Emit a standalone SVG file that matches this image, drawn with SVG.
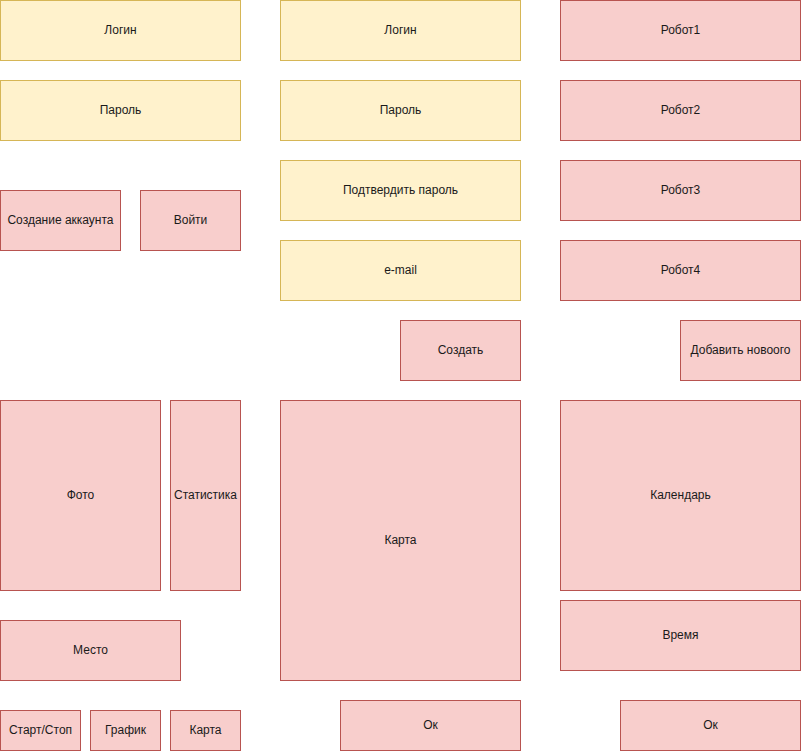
<svg xmlns="http://www.w3.org/2000/svg" width="801" height="751" viewBox="0 0 801 751">
<style>
.y{fill:#fff2cc;stroke:#d6b656;stroke-width:1}
.r{fill:#f8cecc;stroke:#b85450;stroke-width:1}
text{font-family:"Liberation Sans",Arial,sans-serif;font-size:12px;fill:#1a1a1a;text-anchor:middle;dominant-baseline:central}
</style>
<rect width="801" height="751" fill="#ffffff"/>
<g id="login1"><rect class="y" x="0.5" y="0.5" width="240" height="60"/><text x="120.5" y="29.5">Логин</text></g>
<g id="pass1"><rect class="y" x="0.5" y="80.5" width="240" height="60"/><text x="120.5" y="109.5">Пароль</text></g>
<g id="create-acc"><rect class="r" x="0.5" y="190.5" width="120" height="60"/><text x="60.5" y="219.5">Создание аккаунта</text></g>
<g id="enter"><rect class="r" x="140.5" y="190.5" width="100" height="60"/><text x="190.5" y="219.5">Войти</text></g>
<g id="photo"><rect class="r" x="0.5" y="400.5" width="160" height="190"/><text x="80.5" y="494.5">Фото</text></g>
<g id="stats"><rect class="r" x="170.5" y="400.5" width="70" height="190"/><text x="205.5" y="494.5">Статистика</text></g>
<g id="place"><rect class="r" x="0.5" y="620.5" width="180" height="60"/><text x="90.5" y="649.5">Место</text></g>
<g id="startstop"><rect class="r" x="0.5" y="710.5" width="80" height="40"/><text x="40.5" y="729.5">Старт/Стоп</text></g>
<g id="graph"><rect class="r" x="90.5" y="710.5" width="70" height="40"/><text x="125.5" y="729.5">График</text></g>
<g id="map-small"><rect class="r" x="170.5" y="710.5" width="70" height="40"/><text x="205.5" y="729.5">Карта</text></g>

<g id="login2"><rect class="y" x="280.5" y="0.5" width="240" height="60"/><text x="400.5" y="29.5">Логин</text></g>
<g id="pass2"><rect class="y" x="280.5" y="80.5" width="240" height="60"/><text x="400.5" y="109.5">Пароль</text></g>
<g id="confirm"><rect class="y" x="280.5" y="160.5" width="240" height="60"/><text x="400.5" y="189.5">Подтвердить пароль</text></g>
<g id="email"><rect class="y" x="280.5" y="240.5" width="240" height="60"/><text x="400.5" y="269.5">e-mail</text></g>
<g id="create"><rect class="r" x="400.5" y="320.5" width="120" height="60"/><text x="460.5" y="349.5">Создать</text></g>
<g id="map"><rect class="r" x="280.5" y="400.5" width="240" height="280"/><text x="400.5" y="539.5">Карта</text></g>
<g id="ok1"><rect class="r" x="340.5" y="700.5" width="180" height="50"/><text x="430.5" y="724.5">Ок</text></g>

<g id="robot1"><rect class="r" x="560.5" y="0.5" width="240" height="60"/><text x="680.5" y="29.5">Робот1</text></g>
<g id="robot2"><rect class="r" x="560.5" y="80.5" width="240" height="60"/><text x="680.5" y="109.5">Робот2</text></g>
<g id="robot3"><rect class="r" x="560.5" y="160.5" width="240" height="60"/><text x="680.5" y="189.5">Робот3</text></g>
<g id="robot4"><rect class="r" x="560.5" y="240.5" width="240" height="60"/><text x="680.5" y="269.5">Робот4</text></g>
<g id="add-new"><rect class="r" x="680.5" y="320.5" width="120" height="60"/><text x="740.5" y="349.5">Добавить новоого</text></g>
<g id="calendar"><rect class="r" x="560.5" y="400.5" width="240" height="190"/><text x="680.5" y="494.5">Календарь</text></g>
<g id="time"><rect class="r" x="560.5" y="600.5" width="240" height="70"/><text x="680.5" y="634.5">Время</text></g>
<g id="ok2"><rect class="r" x="620.5" y="700.5" width="180" height="50"/><text x="710.5" y="724.5">Ок</text></g>
<g id="connectors"></g>
</svg>
